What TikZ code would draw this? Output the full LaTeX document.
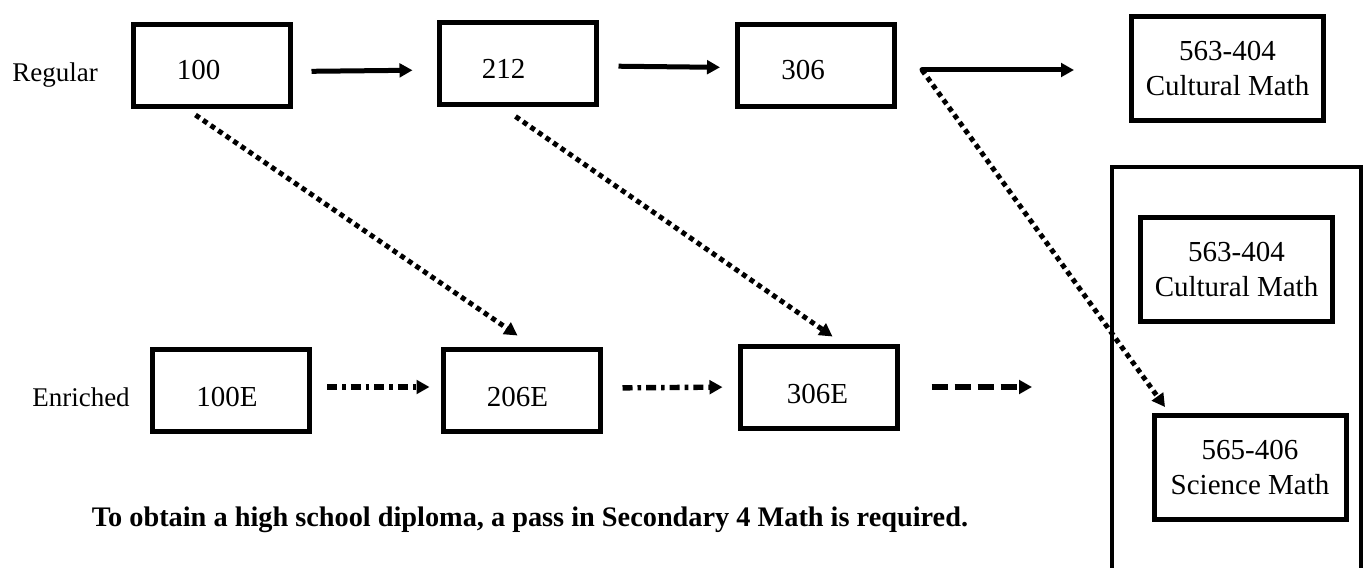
\documentclass[tikz,border=0pt]{standalone}
\usepackage{fontspec}
\setmainfont{Liberation Serif}
\usetikzlibrary{arrows.meta}
\usetikzlibrary{positioning}
\usetikzlibrary{calc}

\begin{document}
\begin{tikzpicture}[x=0.5pt, y=-0.5pt,
	course/.style={draw, line width=2.5pt, minimum width=78.5pt, minimum height=41pt, inner sep=0pt, font=\fontsize{14.5}{17.5}\selectfont},
	option/.style={course, minimum width=96pt, minimum height=52pt, align=center},
	track/.style={inner sep=0pt, font=\fontsize{13.5}{16}\selectfont},
	solidarrow/.style={line width=2.5pt, -{Triangle[length=6.5pt, width=6.8pt]}},
	dotarrow/.style={solidarrow, line width=2.5pt, dash pattern=on 2.5pt off 2.1pt},
	dashdotarrow/.style={solidarrow, line width=2.7pt, dash pattern=on 5pt off 2.5pt on 1.8pt off 2.5pt},
	dasharrow/.style={solidarrow, line width=2.7pt, dash pattern=on 8pt off 3.5pt}]
	\useasboundingbox (0,0) rectangle (1364,567);
	\node[track] (regular) at (55,75) {Regular};
	\node[track] (enriched) at (81,397) {Enriched};
	\foreach \x/\y/\name/\txt/\th/\gap in {211.5/65.5/r100/100/14.2/13, 517.5/64/r212/212/14.8/14, 816/65.5/r306/306/14.2/13, 231/390/e100/100E/16.7/4, 521.5/390/e206/206E/16.7/4, 818.5/387/e306/306E/16.7/1}
	{
		\node[course, text height=\th pt] (\name) at (\x,\y) {\txt\kern\gap pt};
	}
	\node[option] (cult1) at (1227.5,68.5) {563-404\\Cultural Math};
	\node[option] (cult2) at (1236.5,269.5) {563-404\\Cultural Math};
	\node[option] (sci) at (1250,467.5) {565-406\\Science Math};
	\draw[line width=2pt] (1112,590) |- (1361,167) -- (1361,590);
	\node[inner sep=0pt, font=\bfseries\fontsize{14.15}{17}\selectfont] (note) at (530,520) {To obtain a high school diploma, a pass in Secondary 4 Math is required.};
	\coordinate (split) at (922,70);
	\coordinate (enrend) at (1032,387);
	\draw[solidarrow, shorten <=9.5pt, shorten >=12pt] ([yshift=-3pt]r100.east) -- ([yshift=-3pt]r212.west);
	\draw[solidarrow, shorten <=10pt, shorten >=7.5pt] ([yshift=-1pt]r212.east) -- ([yshift=-1pt]r306.west);
	\draw[solidarrow, line cap=round, shorten >=27.5pt] (split) -- (split -| cult1.west);
	\draw[dashdotarrow, shorten <=7.5pt, shorten >=5.5pt] ([yshift=1.5pt]e100.east) -- ([yshift=1.5pt]e206.west);
	\draw[dashdotarrow, shorten <=10pt, shorten >=7.5pt] ([yshift=1pt]e206.east) -- (e306.west);
	\draw[dasharrow, shorten <=16pt] (e306.east) -- (enrend);
	\draw[dotarrow] ($(r100.south)+(-16,6)$) -- ($(e206.north)+(-4,-11)$);
	\draw[dotarrow] ($(r212.south)+(-2,9)$) -- ($(e306.north)+(14,-7)$);
	\draw[dotarrow] (split) -- ($(sci.north west)+(13.5,-6)$);
\end{tikzpicture}
\end{document}
